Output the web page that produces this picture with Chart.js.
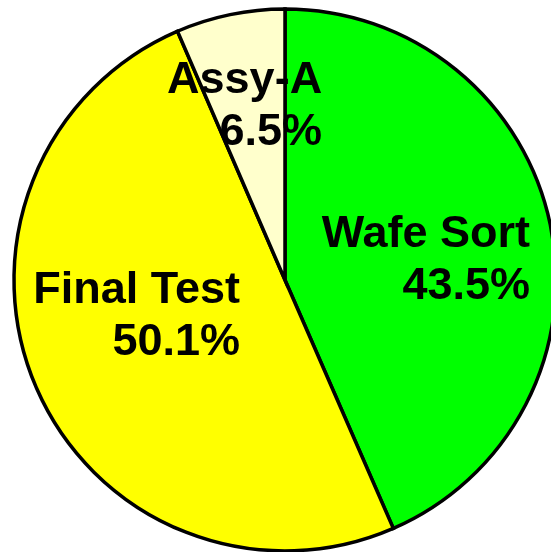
<!DOCTYPE html>
<html>
<head>
<meta charset="utf-8">
<script src="https://cdn.jsdelivr.net/npm/chart.js@4/dist/chart.umd.min.js"></script>
<style>
  html, body { margin: 0; padding: 0; background: #fff; overflow: hidden; }
  #wrap { position: absolute; left: 0; top: 0; width: 570px; height: 560px; }
</style>
</head>
<body>
<div id="wrap"><canvas id="chart"></canvas></div>
<script>
// slice data, clockwise from 12 o'clock
const categories = ['Wafe Sort', 'Final Test', 'Assy-A'];
const shares = [43.5, 50.1, 6.5];
const sliceColors = ['#00FF00', '#FFFF00', '#FFFFCC'];

// where each two-line label sits, relative to the pie centre in radius units
// (x = right edge of text, y = baseline of the first line)
const labelAnchors = [
  { x: 0.904, y: -0.122 },
  { x: -0.166, y: 0.085 },
  { x: 0.137, y: -0.690 }
];

const sliceLabels = {
  id: 'sliceLabels',
  afterDatasetsDraw(chart) {
    const ctx = chart.ctx;
    const arc = chart.getDatasetMeta(0).data[0];
    const cx = arc.x, cy = arc.y, r = arc.outerRadius;
    ctx.save();
    ctx.fillStyle = '#000';
    ctx.font = 'bold 45px "Liberation Sans", Arial, sans-serif';
    ctx.textAlign = 'right';
    ctx.textBaseline = 'alphabetic';
    categories.forEach((name, i) => {
      const a = labelAnchors[i];
      const x = cx + a.x * r, y = cy + a.y * r;
      ctx.fillText(name, x, y);
      ctx.fillText(shares[i].toFixed(1) + '%', x, y + 52);
    });
    ctx.restore();
  }
};

new Chart(document.getElementById('chart'), {
  type: 'pie',
  data: {
    labels: categories,
    datasets: [{
      data: shares,
      backgroundColor: sliceColors,
      borderColor: '#000',
      borderWidth: 3.5,
      borderJoinStyle: 'miter',
      radius: 271
    }]
  },
  options: {
    responsive: true,
    maintainAspectRatio: false,
    animation: false,
    layout: { padding: 0 },
    plugins: {
      legend: { display: false },
      tooltip: { enabled: false },
      title: { display: false }
    }
  },
  plugins: [sliceLabels]
});
</script>
</body>
</html>
